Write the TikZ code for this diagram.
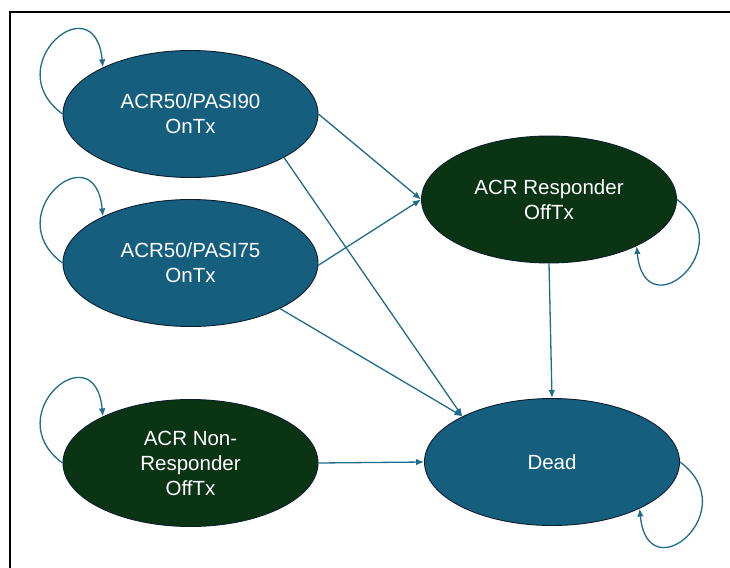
\documentclass[tikz,border=0pt]{standalone}
\usepackage{fontspec}
\setmainfont{Liberation Sans}
\usetikzlibrary{shapes.geometric,arrows.meta}
\definecolor{stblue}{HTML}{165E7E}
\definecolor{stgreen}{HTML}{0B3415}
\definecolor{edgeblue}{HTML}{1F6B8C}
\definecolor{rimdark}{HTML}{0B1E2C}
\tikzset{
  state/.style={ellipse, draw=rimdark, line width=0.9pt, minimum width=255pt, minimum height=127pt,
    inner sep=0pt, text=white, align=center, font=\fontsize{20.5}{25}\selectfont},
  bluestate/.style={state, fill=stblue},
  greenstate/.style={state, fill=stgreen},
  trans/.style={draw=edgeblue, line width=1.3pt, -{Latex[length=8pt,width=6.5pt]}},
  frameline/.style={draw=black, line width=2pt}
}
\begin{document}
\begin{tikzpicture}[x=1pt,y=-1pt]
\useasboundingbox (0,0) rectangle (730,567);
\draw[frameline] (10,580) -- (10,12) -- (740,12);

\node[bluestate] (p90) at (190.5,114) {ACR50/PASI90\\OnTx};
\node[bluestate] (p75) at (190.5,263) {ACR50/PASI75\\OnTx};
\node[greenstate] (nonr) at (190.5,463) {ACR Non-\\Responder\\OffTx};
\node[greenstate] (resp) at (549,199.5) {ACR Responder\\OffTx};
\node[bluestate] (dead) at (552,462) {Dead};

\draw[trans] (p90.east) -- (resp.west);
\draw[trans] (p90.-25.7) -- (dead.153.9);
\draw[trans] (p75.-1) -- (resp.west);
\draw[trans] (p75.-27.2) -- (dead.153.4);
\draw[trans] (nonr.east) -- (dead.west);
\draw[trans] (resp.south) -- (dead.north);

\draw[trans] (p90.west) .. controls +(-65.5,-48) and +(-8,-85) .. (p90.152);
\draw[trans] (p75.west) .. controls +(-65.5,-48) and +(-8,-85) .. (p75.152);
\draw[trans] (nonr.west) .. controls +(-65.5,-48) and +(-8,-85) .. (nonr.152);
\draw[trans] (resp.east) .. controls +(65.5,48) and +(8,85) .. (resp.-28);
\draw[trans] (dead.east) .. controls +(65.5,48) and +(8,85) .. (dead.-28);
\end{tikzpicture}
\end{document}
